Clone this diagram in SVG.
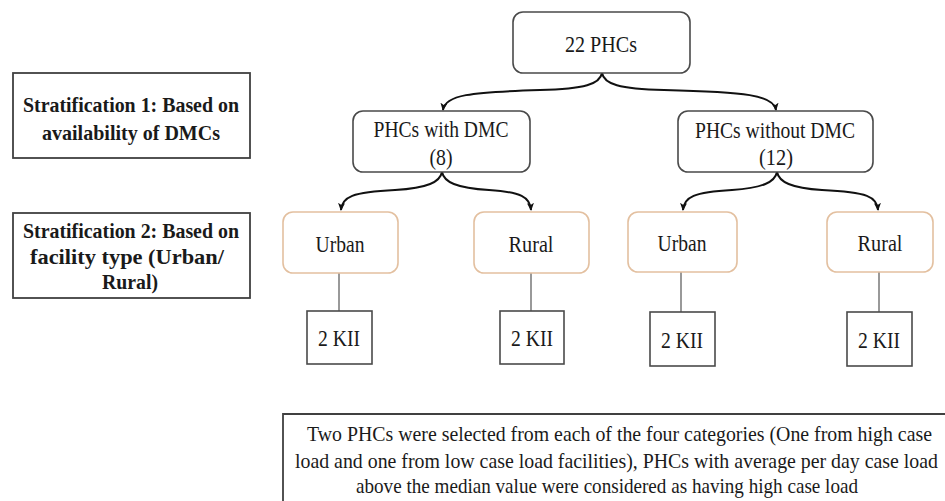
<svg xmlns="http://www.w3.org/2000/svg" width="945" height="501" viewBox="0 0 945 501">
<defs>
<marker id="ah" markerWidth="9" markerHeight="8" refX="7" refY="4" orient="auto" markerUnits="userSpaceOnUse">
<path d="M0,0.5 L8,4 L0,7.5 L2,4 Z" fill="#111"/>
</marker>
<style>
.t{font-family:"Liberation Serif","Times New Roman",serif;font-size:24px;fill:#1a1a1a;text-anchor:middle}
.b{font-weight:bold;font-size:22px}
.n{font-size:22px}
.box{fill:#fff;stroke:#4a4a4a;stroke-width:1.6}
.obox{fill:#fff;stroke:#e3c0a0;stroke-width:1.6}
.sbox{fill:#fff;stroke:#404040;stroke-width:1.8}
.arr{fill:none;stroke:#111;stroke-width:2;marker-end:url(#ah)}
.ln{fill:none;stroke:#555;stroke-width:1.2}
</style>
</defs>
<rect width="945" height="501" fill="#fff"/>
<g id="connectors">
<path class="arr" d="M602,73 C600,84 585,89 540,90 C470,92 445,95 443,110"/>
<path class="arr" d="M602,73 C604,84 619,89 664,90 C745,92 774,95 776,110"/>
<path class="arr" d="M442,172 C440,182 428,188 395,190 C352,192 342,197 341,210"/>
<path class="arr" d="M442,172 C444,182 456,188 489,190 C521,192 530,197 531,210"/>
<path class="arr" d="M777,172 C775,182 763,188 732,190 C694,192 684,197 683,210"/>
<path class="arr" d="M777,172 C779,182 791,188 822,190 C868,192 877,197 878,210"/>
<line class="ln" x1="339" y1="273" x2="339" y2="311"/>
<line class="ln" x1="531" y1="273" x2="531" y2="311"/>
<line class="ln" x1="681" y1="272" x2="681" y2="312"/>
<line class="ln" x1="879" y1="272" x2="879" y2="312"/>
</g>
<g id="strat1">
<rect class="sbox" x="13" y="73" width="237" height="85"/>
<text class="t b" x="131" y="112" textLength="216" lengthAdjust="spacingAndGlyphs">Stratification 1: Based on</text>
<text class="t b" x="131" y="140" textLength="178" lengthAdjust="spacingAndGlyphs">availability of DMCs</text>
</g>
<g id="strat2">
<rect class="sbox" x="13" y="213" width="237" height="85"/>
<text class="t b" x="131" y="238" textLength="216" lengthAdjust="spacingAndGlyphs">Stratification 2: Based on</text>
<text class="t b" x="127" y="264" textLength="194" lengthAdjust="spacingAndGlyphs">facility type (Urban/</text>
<text class="t b" x="130" y="289" textLength="56" lengthAdjust="spacingAndGlyphs">Rural)</text>
</g>
<g id="n22">
<rect class="box" x="513" y="12" width="177" height="61" rx="10"/>
<text class="t" x="601" y="52" textLength="72" lengthAdjust="spacingAndGlyphs">22 PHCs</text>
</g>
<g id="withdmc">
<rect class="box" x="353" y="111" width="177" height="61" rx="10"/>
<text class="t" x="441" y="137" textLength="135" lengthAdjust="spacingAndGlyphs">PHCs with DMC</text>
<text class="t" x="441" y="165" textLength="23" lengthAdjust="spacingAndGlyphs">(8)</text>
</g>
<g id="withoutdmc">
<rect class="box" x="678" y="111" width="195" height="61" rx="10"/>
<text class="t" x="775" y="138" textLength="160" lengthAdjust="spacingAndGlyphs">PHCs without DMC</text>
<text class="t" x="776" y="165" textLength="34" lengthAdjust="spacingAndGlyphs">(12)</text>
</g>
<g id="urban1">
<rect class="obox" x="283" y="212" width="115" height="61" rx="10"/>
<text class="t" x="340" y="252" textLength="49" lengthAdjust="spacingAndGlyphs">Urban</text>
</g>
<g id="rural1">
<rect class="obox" x="474" y="212" width="115" height="61" rx="10"/>
<text class="t" x="531" y="252" textLength="45" lengthAdjust="spacingAndGlyphs">Rural</text>
</g>
<g id="urban2">
<rect class="obox" x="628" y="212" width="109" height="60" rx="10"/>
<text class="t" x="682" y="251" textLength="49" lengthAdjust="spacingAndGlyphs">Urban</text>
</g>
<g id="rural2">
<rect class="obox" x="827" y="212" width="106" height="60" rx="10"/>
<text class="t" x="880" y="251" textLength="45" lengthAdjust="spacingAndGlyphs">Rural</text>
</g>
<g id="kii1">
<rect class="box" x="307" y="311" width="65" height="53"/>
<text class="t" x="339" y="346" textLength="42" lengthAdjust="spacingAndGlyphs">2 KII</text>
</g>
<g id="kii2">
<rect class="box" x="500" y="311" width="64" height="53"/>
<text class="t" x="532" y="346" textLength="42" lengthAdjust="spacingAndGlyphs">2 KII</text>
</g>
<g id="kii3">
<rect class="box" x="650" y="312" width="65" height="54"/>
<text class="t" x="682" y="348" textLength="42" lengthAdjust="spacingAndGlyphs">2 KII</text>
</g>
<g id="kii4">
<rect class="box" x="847" y="312" width="65" height="54"/>
<text class="t" x="879" y="348" textLength="42" lengthAdjust="spacingAndGlyphs">2 KII</text>
</g>
<g id="note">
<path d="M945,414 H283 V501" fill="none" stroke="#404040" stroke-width="1.8"/>
<text class="t n" x="619.5" y="441" textLength="625" lengthAdjust="spacingAndGlyphs">Two PHCs were selected from each of the four categories (One from high case</text>
<text class="t n" x="616.5" y="468" textLength="643" lengthAdjust="spacingAndGlyphs">load and one from low case load facilities), PHCs with average per day case load</text>
<text class="t n" x="607" y="493" textLength="502" lengthAdjust="spacingAndGlyphs">above the median value were considered as having high case load</text>
</g>
</svg>
